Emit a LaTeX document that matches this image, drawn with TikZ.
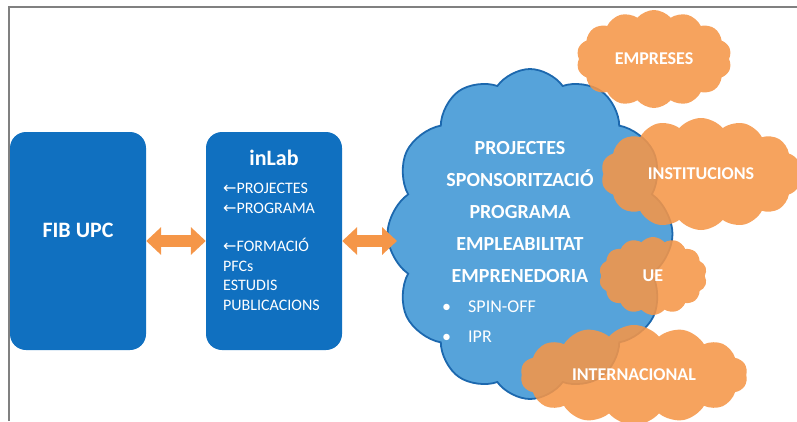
\documentclass[tikz,border=0pt]{standalone}
\usepackage{fontspec}
\setmainfont{Carlito}
\newfontfamily\arrowfont{DejaVu Sans}
\usetikzlibrary{shapes.symbols,arrows.meta}

\definecolor{boxblue}{RGB}{16,112,192}
\definecolor{cloudblue}{RGB}{86,163,218}
\definecolor{cloudedge}{RGB}{28,104,174}
\definecolor{cloudorange}{RGB}{245,150,72}
\definecolor{framegray}{RGB}{128,128,128}

\tikzstyle{block}        = [fill=boxblue, rounded corners=16pt, minimum width=136pt, minimum height=218pt, inner sep=0]
\tikzstyle{blue cloud}   = [cloud, cloud puffs=12, cloud puff arc=110, cloud ignores aspect, fill=cloudblue, draw=cloudedge, line width=1.8pt, inner sep=0]
\tikzstyle{orange cloud} = [cloud, cloud puffs=14, cloud puff arc=100, cloud ignores aspect, fill=cloudorange, fill opacity=0.88, text opacity=1, text=white, font=\bfseries\fontsize{18}{20}\selectfont]
\tikzstyle{link}         = [line width=12pt, draw=cloudorange, {Triangle[length=15pt,width=27pt]}-{Triangle[length=15pt,width=27pt]}]
\newcommand{\larr}{{\arrowfont ←}}

\begin{document}
\begin{tikzpicture}[x=1pt, y=-1pt, text=white]
\clip (0,0) rectangle (797,421);

    % frame
    \draw[framegray, line width=1.3pt] (9,421) -- (9,7) -- (797,7);

    % left boxes
    \node(fib)[block] at (78,241){};
    \node(fibtext)[anchor=base, font=\bfseries\fontsize{22}{26}\selectfont] at (78,237){FIB UPC};

    \node(inlab)[block] at (274,241){};
    \node(inlabtext)[anchor=base, font=\bfseries\fontsize{22}{26}\selectfont] at (274,165){inLab};
    % multi-line nodes: base is the last line
    \node(inlabitems)[anchor=base west, align=left, inner sep=0, font=\fontsize{16}{19.4}\selectfont] at (223,310)
        {\larr PROJECTES\\ \larr PROGRAMA\\ \\ \larr FORMACIÓ\\ PFCs\\ ESTUDIS\\ PUBLICACIONS};

    % central cloud
    \node(bigcloud)[blue cloud, minimum width=285pt, minimum height=330pt] at (530,234){};
    \node(cloudtext)[anchor=base, align=center, inner sep=0, font=\bfseries\fontsize{20}{32}\selectfont] at (520,282)
        {PROJECTES\\SPONSORITZACIÓ\\PROGRAMA\\EMPLEABILITAT\\EMPRENEDORIA};
    \node(cloudlist)[anchor=base west, align=left, inner sep=0, font=\fontsize{18}{30}\selectfont] at (442,342)
        {\makebox[26pt][l]{\textbullet}SPIN-OFF\\ \makebox[26pt][l]{\textbullet}IPR};
    \coordinate(cloudin) at (397,241);

    % outer clouds
    \node(empreses)[orange cloud, minimum width=155pt, minimum height=98pt] at (654,59){EMPRESES};
    \node(institucions)[orange cloud, minimum width=200pt, minimum height=112pt] at (701,174){INSTITUCIONS};
    \node(ue)[orange cloud, minimum width=108pt, minimum height=78pt] at (653,276){UE};
    \node(internacional)[orange cloud, minimum width=227pt, minimum height=100pt] at (634,375){INTERNACIONAL};

    % links
    \draw[link](fib)--(inlab);
    \draw[link](inlab)--(cloudin);

\end{tikzpicture}
\end{document}
